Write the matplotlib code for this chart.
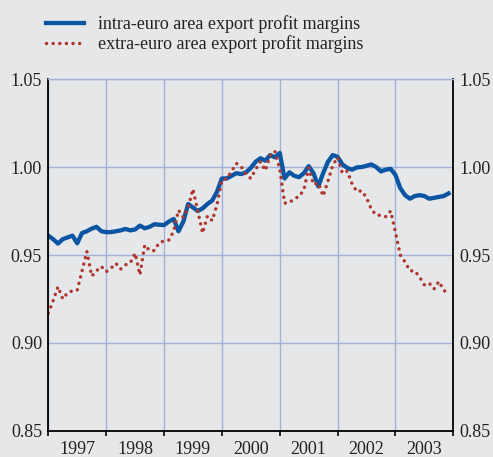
import matplotlib
matplotlib.use("Agg")
import matplotlib.pyplot as plt
import numpy as np

# --- data (monthly, Jan 1997 - Dec 2003) ---
years = ['1997', '1998', '1999', '2000', '2001', '2002', '2003']

intra = [
    0.961, 0.959, 0.9565, 0.959, 0.960, 0.961, 0.9567, 0.9625, 0.9635, 0.965, 0.966, 0.9635,
    0.963, 0.963, 0.9635, 0.964, 0.9648, 0.964, 0.9645, 0.9667, 0.9652, 0.966, 0.9675, 0.9672,
    0.967, 0.969, 0.9705, 0.9635, 0.969, 0.979, 0.977, 0.975, 0.9765, 0.979, 0.981, 0.986,
    0.9935, 0.9935, 0.995, 0.9965, 0.996, 0.997, 0.9995, 1.003, 1.005, 1.0036, 1.0068, 1.0055,
    1.008, 0.9935, 0.997, 0.995, 0.9942, 0.9965, 1.0005, 0.9965, 0.989, 0.9965, 1.003, 1.0068,
    1.0058, 1.0015, 0.9995, 0.9985, 0.9998, 1.000, 1.0007, 1.0015, 1.000, 0.9975, 0.9985, 0.999,
    0.9955, 0.988, 0.984, 0.982, 0.9835, 0.984, 0.9835, 0.982, 0.9825, 0.983, 0.9835, 0.985,
]

extra = [
    0.917, 0.924, 0.932, 0.925, 0.9286, 0.9296, 0.930, 0.941, 0.952, 0.938, 0.941, 0.9435,
    0.9405, 0.9425, 0.9453, 0.942, 0.9444, 0.9455, 0.951, 0.9387, 0.9557, 0.9525, 0.9525, 0.957,
    0.958, 0.9585, 0.9635, 0.9755, 0.9714, 0.977, 0.9875, 0.975, 0.9624, 0.9722, 0.9695, 0.9788,
    0.9925, 0.9934, 0.9975, 1.0021, 1.0002, 0.9959, 0.9935, 0.9987, 1.003, 0.998, 1.0065, 1.009,
    0.999, 0.9795, 0.9797, 0.982, 0.9832, 0.987, 0.9995, 0.990, 0.991, 0.9835, 0.992, 1.001,
    1.0055, 0.9965, 0.9977, 0.9905, 0.986, 0.9865, 0.9826, 0.976, 0.9727, 0.9725, 0.9718, 0.975,
    0.963, 0.950, 0.946, 0.941, 0.941, 0.9375, 0.933, 0.934, 0.9307, 0.935, 0.930, 0.928,
]

labels = ['intra-euro area export profit margins',
          'extra-euro area export profit margins']

# --- style ---
BG = '#e6e7e9'
GRID = '#a3b0da'
BLUE = '#0a56a3'
RED = '#b0352d'
TEXT = '#222222'

plt.rcParams['font.family'] = ['Liberation Serif', 'DejaVu Serif']

months = np.arange(len(intra))

fig = plt.figure(figsize=(4.93, 4.57), dpi=100, facecolor=BG)
ax = fig.add_axes([0.098, 0.057, 0.8215, 0.770])
ax.set_facecolor(BG)

ax.plot(months, intra, color=BLUE, lw=3.1, solid_joinstyle='round', label=labels[0])
ax.plot(np.arange(len(extra)), extra, color=RED, lw=2.5, linestyle=(0, (0.01, 1.9)),
        dash_capstyle='round', label=labels[1])

ax.set_xlim(0, 12 * len(years))
ax.set_ylim(0.85, 1.05)

yt = np.arange(0.85, 1.051, 0.05)
ax.set_yticks(yt)
ax.set_yticklabels([f'{v:.2f}' for v in yt])
ax.set_xticks(np.arange(6, 12 * len(years), 12))
ax.set_xticklabels(years)
ax.set_xticks(np.arange(0, 12 * len(years) + 1, 12), minor=True)

ax.grid(which='minor', axis='x', color=GRID, lw=1)
ax.grid(which='major', axis='y', color=GRID, lw=1)
ax.set_axisbelow(True)

ax.tick_params(axis='x', which='major', length=0, pad=7, labelsize=13, labelcolor=TEXT)
ax.tick_params(axis='x', which='minor', length=3.5, width=1.2, direction='out', color='black')
ax.tick_params(axis='y', length=0, pad=4.5, labelsize=13, labelcolor=TEXT, labelright=True)

ax.spines['top'].set_color(GRID)
ax.spines['top'].set_linewidth(1)
for s in ['left', 'right', 'bottom']:
    ax.spines[s].set_color('black')
    ax.spines[s].set_linewidth(1.3)

fig.legend(loc='upper left', bbox_to_anchor=(46 / 493, 1 - 15 / 457), frameon=False,
           fontsize=13, handlelength=2.1, handletextpad=0.8, labelspacing=0.15,
           borderpad=0, borderaxespad=0, labelcolor=TEXT)

fig.savefig('out.png', dpi=100, facecolor=BG)
